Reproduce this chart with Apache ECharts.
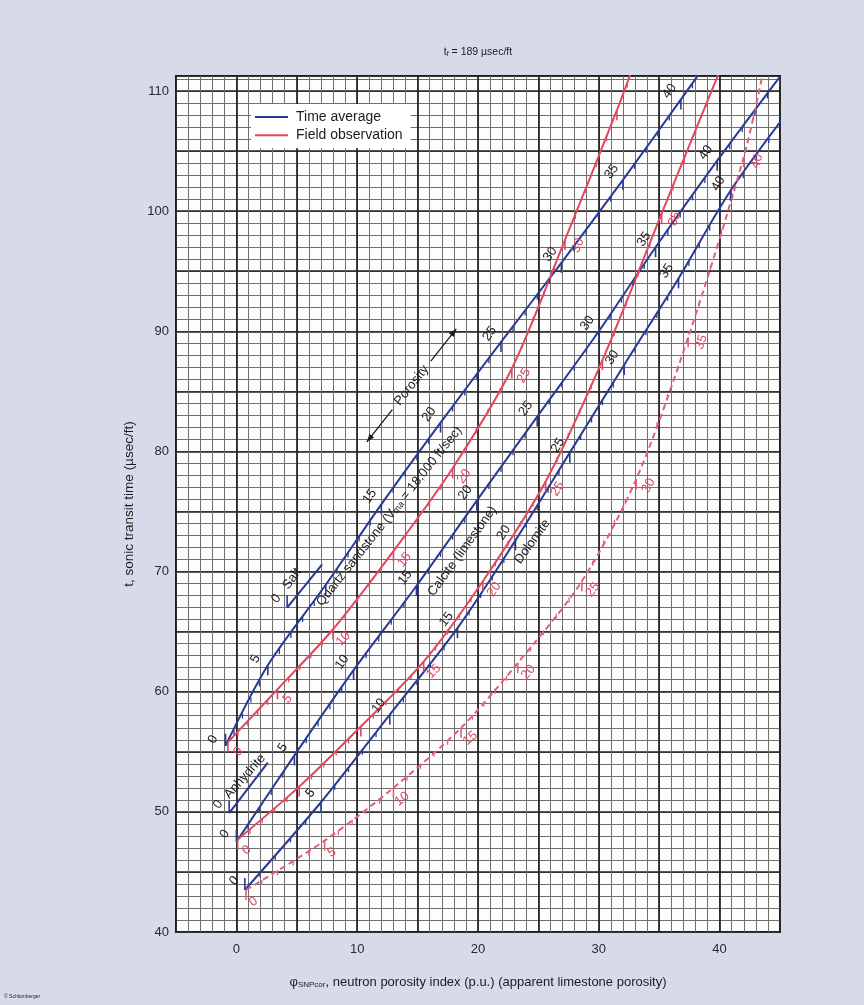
<!DOCTYPE html>
<html>
<head>
<meta charset="utf-8">
<title>Sonic transit time vs neutron porosity</title>
<script src="https://cdn.jsdelivr.net/npm/echarts@6/dist/echarts.min.js"></script>
<style>
  html, body { margin: 0; padding: 0; background: #d7dae8; }
  #chart { width: 864px; height: 1005px; }
</style>
</head>
<body>
<div id="chart"></div>
<script>
// Axis ranges: neutron porosity index (p.u.) and sonic transit time (µsec/ft)
const xMin = -5, xMax = 45;
const yMin = 40, yMax = 111.25;
const xLabelTicks = [0, 10, 20, 30, 40];
const yLabelTicks = [40, 50, 60, 70, 80, 90, 100, 110];

// Quartz sandstone, time average: porosity -> neutron index, transit time
const sandTaPhi = [0, 5, 10, 15, 20, 25, 30, 35, 40, 42];
const sandTaX = [-0.9, 2.6, 7.4, 12.0, 16.9, 21.9, 26.9, 32.0, 36.8, 38.7];
const sandTaY = [55.5, 62.2, 68.9, 75.6, 82.4, 89.1, 95.7, 102.6, 109.3, 112.0];
const sandTaLabels = [0, 5, 15, 20, 25, 30, 35, 40];

// Quartz sandstone, field observation
const sandFoPhi = [0, 5, 10, 15, 20, 25, 30, 35, 37];
const sandFoX = [-0.7, 3.4, 8.0, 13.0, 17.9, 22.8, 27.2, 31.5, 33.2];
const sandFoY = [55.8, 60.2, 65.2, 71.7, 78.6, 86.9, 97.6, 108.4, 113.0];
const sandFoLabels = [0, 5, 10, 15, 20, 25, 30];

// Calcite (limestone), time average
const limeTaPhi = [0, 5, 10, 15, 20, 25, 30, 35, 40, 45];
const limeTaX = [0.0, 4.8, 9.7, 14.9, 19.9, 24.9, 30.0, 34.7, 39.8, 45.0];
const limeTaY = [47.5, 54.7, 61.8, 68.8, 75.9, 82.9, 90.0, 97.0, 104.2, 111.2];
const limeTaLabels = [0, 5, 10, 15, 20, 25, 30, 35, 40];

// Calcite (limestone), field observation
const limeFoPhi = [0, 5, 10, 15, 20, 25, 30, 35, 40];
const limeFoX = [0.1, 5.2, 10.3, 15.5, 20.4, 25.6, 30.3, 35.2, 39.9];
const limeFoY = [47.7, 52.1, 57.1, 62.5, 69.2, 77.5, 87.6, 99.8, 111.4];
const limeFoLabels = [0, 15, 20, 25, 35];

// Dolomite, time average
const doloTaPhi = [0, 5, 10, 15, 20, 25, 30, 35, 40, 45];
const doloTaX = [0.7, 7.0, 12.7, 18.3, 23.1, 27.6, 32.1, 36.6, 40.9, 46.2];
const doloTaY = [43.5, 50.8, 58.1, 65.3, 72.6, 79.9, 87.2, 94.4, 101.7, 109.0];
const doloTaLabels = [0, 5, 10, 15, 20, 25, 30, 35, 40];

// Dolomite, field observation (dashed)
const doloFoPhi = [0, 5, 10, 15, 20, 25, 30, 35, 40, 42];
const doloFoX = [0.8, 7.3, 13.0, 18.6, 23.3, 28.6, 33.1, 37.4, 42.0, 43.6];
const doloFoY = [43.5, 47.6, 52.0, 57.0, 62.4, 69.2, 77.7, 89.5, 104.5, 111.6];
const doloFoLabels = [0, 5, 10, 15, 20, 25, 30, 35, 40];

// Salt and anhydrite points with their short porosity-direction lines
const saltX = [4.2, 7.1];
const saltY = [67.0, 70.6];
const anhyX = [-0.6, 2.6];
const anhyY = [49.9, 54.1];

// Text placed along the lines
const noteText = ['Salt', 'Anhydrite', 'Calcite (limestone)', 'Dolomite'];
const noteX = [4.6, 0.7, 18.7, 24.5];
const noteY = [69.4, 52.95, 71.7, 72.5];
const noteAngle = [55, 48, 54, 54];
const sandNoteX = 12.65, sandNoteY = 74.6, sandNoteAngle = 51.5;
const arrowFrom = [10.8, 80.8];
const arrowTo = [18.2, 90.2];

const BLUE = '#283a93';
const RED = '#e2475d';
const RED_DASH = '#e4607a';
const INK = '#1c1c1c';
const FONT = '"Liberation Sans", Arial, Helvetica, sans-serif';

function pairs(xs, ys) { return xs.map(function (v, i) { return [v, ys[i]]; }); }
function intRange(a, b) { const r = []; for (let p = a; p <= b; p++) r.push(p); return r; }

function curve(name, xs, ys, color, dashed) {
  return {
    type: 'line', name: name, data: pairs(xs, ys), smooth: 0.3, symbol: 'none',
    clip: true, silent: true, z: 3,
    lineStyle: { color: color, width: 2, type: dashed ? [6, 4] : 'solid' },
    itemStyle: { color: color }
  };
}

// Porosity scale marks (one per p.u., long every 5) and their numbers.
// On the time-average lines the zero mark stands up from the line start.
function scaleMarks(phis, xs, ys, labels, lineColor, textColor, side, tickList) {
  const list = tickList || intRange(phis[0], phis[phis.length - 1]);
  return {
    type: 'custom', coordinateSystem: 'cartesian2d', clip: true, silent: true, z: 4,
    data: [[xs[0], ys[0]]],
    renderItem: function (params, api) {
      const children = [];
      list.forEach(function (p) {
        let i = 0;
        while (i < phis.length - 2 && p > phis[i + 1]) i++;
        const t = (p - phis[i]) / (phis[i + 1] - phis[i]);
        const x = xs[i] + t * (xs[i + 1] - xs[i]);
        const y = ys[i] + t * (ys[i + 1] - ys[i]);
        if (x < xMin || x > xMax || y < yMin || y > yMax) return;
        const pt = api.coord([x, y]);
        const a = api.coord([xs[i], ys[i]]);
        const b = api.coord([xs[i + 1], ys[i + 1]]);
        let dx = b[0] - a[0], dy = b[1] - a[1];
        const len = Math.hypot(dx, dy); dx /= len; dy /= len;
        const major = p % 5 === 0;
        let tl = major ? 10 : 5;
        if (p === phis[0] && side === 'left') tl = -12;
        children.push({
          type: 'line',
          shape: { x1: pt[0], y1: pt[1], x2: pt[0], y2: pt[1] + tl },
          style: { stroke: lineColor, lineWidth: major ? 1.6 : 1.3 }
        });
        if (labels.indexOf(p) >= 0) {
          const nx = side === 'left' ? dy : -dy;
          const ny = side === 'left' ? -dx : dx;
          children.push({
            type: 'text', x: pt[0] + nx * 14, y: pt[1] + ny * 14,
            rotation: Math.atan2(-dy, dx),
            style: {
              text: String(p), fill: textColor, font: '13px ' + FONT,
              align: 'center', verticalAlign: 'middle'
            }
          });
        }
      });
      return { type: 'group', children: children };
    }
  };
}

const notesSeries = {
  type: 'custom', coordinateSystem: 'cartesian2d', silent: true, z: 6,
  data: [[noteX[0], noteY[0]]],
  renderItem: function (params, api) {
    const children = [];
    noteText.forEach(function (txt, i) {
      const p = api.coord([noteX[i], noteY[i]]);
      children.push({
        type: 'text', x: p[0], y: p[1], rotation: noteAngle[i] * Math.PI / 180,
        style: { text: txt, fill: INK, font: '13px ' + FONT, align: 'center', verticalAlign: 'middle' }
      });
    });
    const s = api.coord([sandNoteX, sandNoteY]);
    children.push({
      type: 'text', x: s[0], y: s[1], rotation: sandNoteAngle * Math.PI / 180,
      style: {
        text: 'Quartz sandstone (V{s|ma} = 18,000 ft/sec)', fill: INK, font: '13px ' + FONT,
        align: 'center', verticalAlign: 'middle',
        rich: { s: { fontSize: 9, fontFamily: 'Liberation Sans', fill: INK, verticalAlign: 'bottom', padding: [4, 0, 0, 0] } }
      }
    });
    // Porosity direction arrow
    const a = api.coord(arrowFrom), b = api.coord(arrowTo);
    let dx = b[0] - a[0], dy = b[1] - a[1];
    const L = Math.hypot(dx, dy); dx /= L; dy /= L;
    const mx = (a[0] + b[0]) / 2, my = (a[1] + b[1]) / 2, gap = 31;
    children.push({ type: 'line', shape: { x1: a[0], y1: a[1], x2: mx - dx * gap, y2: my - dy * gap }, style: { stroke: INK, lineWidth: 1.3 } });
    children.push({ type: 'line', shape: { x1: mx + dx * gap, y1: my + dy * gap, x2: b[0], y2: b[1] }, style: { stroke: INK, lineWidth: 1.3 } });
    function head(tip, ux, uy) {
      const bx = tip[0] - ux * 8, by = tip[1] - uy * 8;
      return { type: 'polygon', shape: { points: [[tip[0], tip[1]], [bx - uy * 3, by + ux * 3], [bx + uy * 3, by - ux * 3]] }, style: { fill: INK } };
    }
    children.push(head(b, dx, dy));
    children.push(head(a, -dx, -dy));
    children.push({
      type: 'text', x: mx, y: my, rotation: Math.atan2(-dy, dx),
      style: { text: 'Porosity', fill: INK, font: '13px ' + FONT, align: 'center', verticalAlign: 'middle' }
    });
    return { type: 'group', children: children };
  }
};

const chart = echarts.init(document.getElementById('chart'), null, { renderer: 'canvas' });

chart.setOption({
  animation: false,
  backgroundColor: '#d7dae8',
  grid: {
    left: 176, right: 84, top: 76, bottom: 73, show: true,
    backgroundColor: '#fdfdfd', borderColor: '#1e1e1e', borderWidth: 2
  },
  legend: {
    left: 251, top: 104, orient: 'vertical', selectedMode: false,
    itemWidth: 33, itemHeight: 2, itemGap: 2.3,
    backgroundColor: '#ffffff', padding: [5, 8, 5, 4],
    textStyle: { fontSize: 14, lineHeight: 16, color: INK, fontFamily: 'Liberation Sans', padding: [0, 0, 0, 3] },
    data: [{ name: 'Time average', icon: 'rect' }, { name: 'Field observation', icon: 'rect' }]
  },
  xAxis: [
    {
      type: 'value', min: xMin, max: xMax, interval: 1, position: 'bottom',
      axisLine: { show: false }, axisTick: { show: false },
      axisLabel: {
        margin: 11, fontSize: 13, color: '#2a2a2a', fontFamily: 'Liberation Sans',
        formatter: function (v) { return xLabelTicks.indexOf(Math.round(v)) >= 0 && Math.abs(v - Math.round(v)) < 1e-6 ? String(Math.round(v)) : ''; }
      },
      splitLine: { show: true, lineStyle: { color: '#6e6e6e', width: 1 } },
      name: '{p|φ}{s|SNPcor}{p|, neutron porosity index (p.u.) (apparent limestone porosity)}',
      nameLocation: 'middle', nameGap: 44,
      nameTextStyle: {
        rich: {
          p: { fontSize: 13, color: INK, fontFamily: 'Liberation Sans' },
          s: { fontSize: 8, color: INK, fontFamily: 'Liberation Sans', verticalAlign: 'bottom', padding: [5, 0, 0, 0] }
        }
      }
    },
    {
      type: 'value', min: xMin, max: xMax, interval: 5, position: 'bottom',
      axisLine: { show: false }, axisTick: { show: false }, axisLabel: { show: false },
      splitLine: { show: true, lineStyle: { color: '#202020', width: 1.7 } }
    }
  ],
  yAxis: [
    {
      type: 'value', min: yMin, max: yMax, interval: 1, position: 'left',
      axisLine: { show: false }, axisTick: { show: false },
      axisLabel: {
        margin: 7, fontSize: 13, color: '#2a2a2a', fontFamily: 'Liberation Sans', showMaxLabel: false,
        formatter: function (v) { return yLabelTicks.indexOf(Math.round(v)) >= 0 && Math.abs(v - Math.round(v)) < 1e-6 ? String(Math.round(v)) : ''; }
      },
      splitLine: { show: true, lineStyle: { color: '#6e6e6e', width: 1 } },
      name: 't, sonic transit time (µsec/ft)', nameLocation: 'middle', nameGap: 40, nameRotate: 90,
      nameTextStyle: { fontSize: 13.5, color: INK, fontFamily: 'Liberation Sans' }
    },
    {
      type: 'value', min: yMin, max: yMax, interval: 5, position: 'left',
      axisLine: { show: false }, axisTick: { show: false }, axisLabel: { show: false },
      splitLine: { show: true, lineStyle: { color: '#202020', width: 1.7 } }
    }
  ],
  graphic: [
    {
      type: 'text', x: 478, y: 52, z: 10,
      style: {
        text: '{a|t}{b|f}{a| = 189 µsec/ft}', align: 'center', verticalAlign: 'middle',
        rich: {
          a: { fontSize: 10.5, fill: INK, fontFamily: 'Liberation Sans' },
          b: { fontSize: 7, fill: INK, fontFamily: 'Liberation Sans', verticalAlign: 'bottom', padding: [3, 0, 0, 0] }
        }
      }
    },
    {
      type: 'text', x: 4, y: 997, z: 10,
      style: { text: '© Schlumberger', fill: INK, font: '5px ' + FONT, verticalAlign: 'middle' }
    }
  ],
  series: [
    curve('Time average', sandTaX, sandTaY, BLUE, false),
    curve('Field observation', sandFoX, sandFoY, RED, false),
    curve('Time average', limeTaX, limeTaY, BLUE, false),
    curve('Field observation', limeFoX, limeFoY, RED, false),
    curve('Time average', doloTaX, doloTaY, BLUE, false),
    curve('Field observation', doloFoX, doloFoY, RED_DASH, true),
    curve('Time average', saltX, saltY, BLUE, false),
    curve('Time average', anhyX, anhyY, BLUE, false),
    scaleMarks(sandTaPhi, sandTaX, sandTaY, sandTaLabels, BLUE, INK, 'left'),
    scaleMarks(sandFoPhi, sandFoX, sandFoY, sandFoLabels, RED, RED, 'right'),
    scaleMarks(limeTaPhi, limeTaX, limeTaY, limeTaLabels, BLUE, INK, 'left'),
    scaleMarks(limeFoPhi, limeFoX, limeFoY, limeFoLabels, RED, RED, 'right'),
    scaleMarks(doloTaPhi, doloTaX, doloTaY, doloTaLabels, BLUE, INK, 'left'),
    scaleMarks(doloFoPhi, doloFoX, doloFoY, doloFoLabels, RED_DASH, RED, 'right'),
    scaleMarks([0, 1], saltX, saltY, [0], BLUE, INK, 'left', [0]),
    scaleMarks([0, 1], anhyX, anhyY, [0], BLUE, INK, 'left', [0]),
    notesSeries
  ]
});
</script>
</body>
</html>
